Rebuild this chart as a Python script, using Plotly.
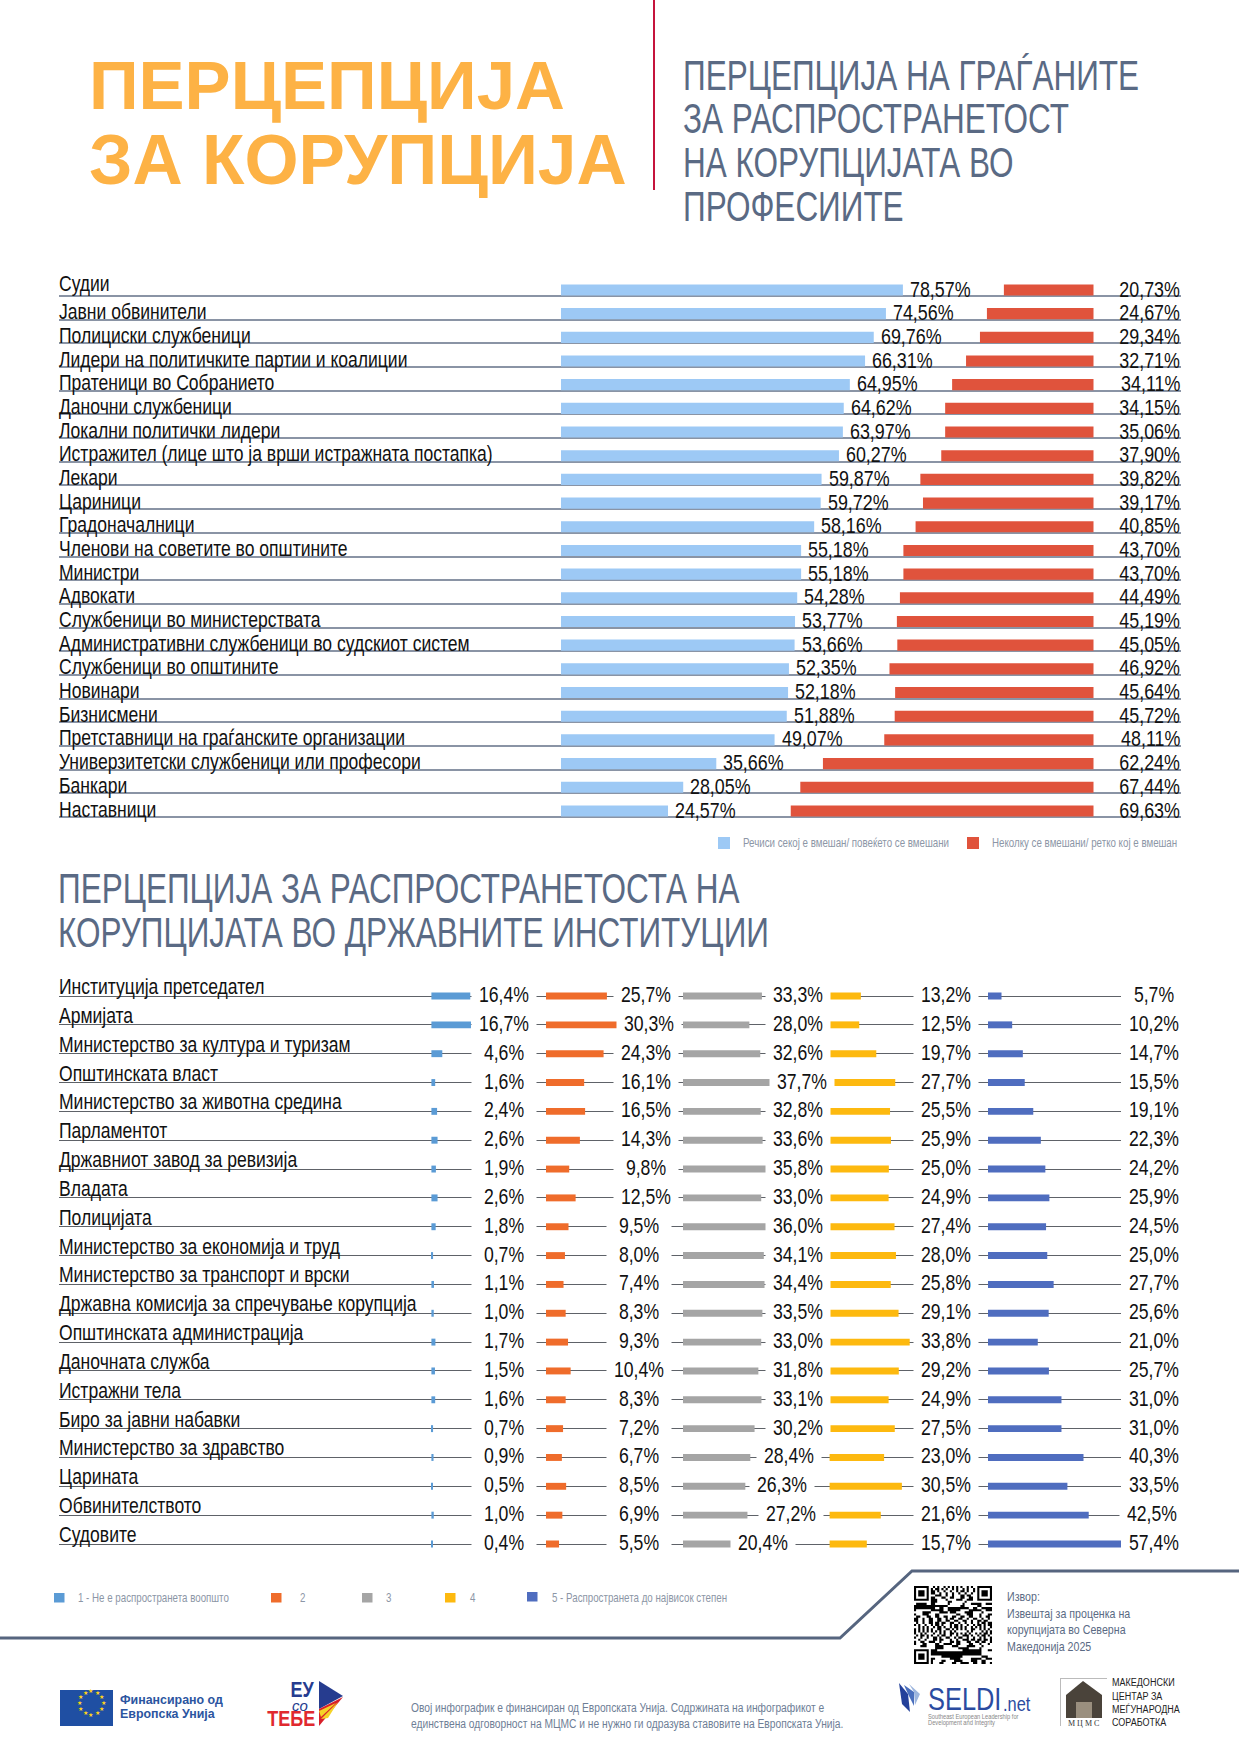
import math
import plotly.graph_objects as go

W, H = 1239, 1754
FONT = "Liberation Sans, sans-serif"      # narrowed horizontally below, as the original uses a narrow face
ARIAL = "Arial, Liberation Sans, sans-serif"
NARROW = 0.82

professions = ["Судии", "Јавни обвинители", "Полициски службеници",
    "Лидери на политичките партии и коалиции", "Пратеници во Собранието",
    "Даночни службеници", "Локални политички лидери",
    "Истражител (лице што ја врши истражната постапка)", "Лекари", "Цариници",
    "Градоначалници", "Членови на советите во општините", "Министри", "Адвокати",
    "Службеници во министерствата", "Административни службеници во судскиот систем",
    "Службеници во општините", "Новинари", "Бизнисмени",
    "Претставници на граѓанските организации",
    "Универзитетски службеници или професори", "Банкари", "Наставници"]
involved_labels = ["78,57%", "74,56%", "69,76%", "66,31%", "64,95%", "64,62%", "63,97%", "60,27%",
    "59,87%", "59,72%", "58,16%", "55,18%", "55,18%", "54,28%", "53,77%", "53,66%", "52,35%",
    "52,18%", "51,88%", "49,07%", "35,66%", "28,05%", "24,57%"]
few_labels = ["20,73%", "24,67%", "29,34%", "32,71%", "34,11%", "34,15%", "35,06%", "37,90%",
    "39,82%", "39,17%", "40,85%", "43,70%", "43,70%", "44,49%", "45,19%", "45,05%", "46,92%",
    "45,64%", "45,72%", "48,11%", "62,24%", "67,44%", "69,63%"]
# Bar lengths as drawn in the picture (a few differ from their printed labels)
involved_bars = [78.6, 74.7, 71.9, 69.9, 66.4, 65.0, 64.8, 63.9, 59.9, 59.7, 58.2, 55.2, 55.2,
    54.3, 53.8, 53.7, 52.4, 52.2, 51.9, 49.1, 35.7, 28.1, 24.6]
few_bars = [20.6, 24.5, 26.1, 29.3, 32.5, 34.1, 34.1, 35.0, 39.8, 39.2, 40.9, 43.7, 43.7, 44.5,
    45.2, 45.1, 46.9, 45.6, 45.7, 48.1, 62.2, 67.4, 69.6]

institutions = ["Институција претседател", "Армијата", "Министерство за култура и туризам",
    "Општинската власт", "Министерство за животна средина", "Парламентот",
    "Државниот завод за ревизија", "Владата", "Полицијата", "Министерство за економија и труд",
    "Министерство за транспорт и врски", "Државна комисија за спречување корупција",
    "Општинската администрација", "Даночната служба", "Истражни тела", "Биро за јавни набавки",
    "Министерство за здравство", "Царината", "Обвинителството", "Судовите"]
level1 = [16.4, 16.7, 4.6, 1.6, 2.4, 2.6, 1.9, 2.6, 1.8, 0.7, 1.1, 1.0, 1.7, 1.5, 1.6, 0.7, 0.9, 0.5, 1.0, 0.4]
level2 = [25.7, 30.3, 24.3, 16.1, 16.5, 14.3, 9.8, 12.5, 9.5, 8.0, 7.4, 8.3, 9.3, 10.4, 8.3, 7.2, 6.7, 8.5, 6.9, 5.5]
level3 = [33.3, 28.0, 32.6, 37.7, 32.8, 33.6, 35.8, 33.0, 36.0, 34.1, 34.4, 33.5, 33.0, 31.8, 33.1, 30.2, 28.4, 26.3, 27.2, 20.4]
level4 = [13.2, 12.5, 19.7, 27.7, 25.5, 25.9, 25.0, 24.9, 27.4, 28.0, 25.8, 29.1, 33.8, 29.2, 24.9, 27.5, 23.0, 30.5, 21.6, 15.7]
level5 = [5.7, 10.2, 14.7, 15.5, 19.1, 22.3, 24.2, 25.9, 24.5, 25.0, 27.7, 25.6, 21.0, 25.7, 31.0, 31.0, 40.3, 33.5, 42.5, 57.4]
levels = [level1, level2, level3, level4, level5]

ORANGE_T, SLATE, GREY_T = "#FDB245", "#5A6A84", "#8C96A6"
BLUE_L, RED = "#9DC9F5", "#E0533C"
LEVEL_COLORS = ["#5B9BD5", "#EF6C2B", "#A5A5A5", "#FDB90F", "#4F6DBF"]
LINE_TOP, LINE_BOT = "#8A94A5", "#5E6268"

def fx(px): return px / W
def fy(py): return 1 - py / H

fig = go.Figure()
ann, shapes = [], []
def text(x, y, s, size, color="#111", anchor="left", font=FONT):
    ann.append(dict(x=fx(x), y=fy(y), xref="paper", yref="paper", text=s, showarrow=False, xanchor=anchor,
                    align=anchor, yanchor="middle", font=dict(size=size, color=color, family=font)))

def px_path(pts, close=True):
    s = "M" + " L".join(f"{fx(a):.5f},{fy(b):.5f}" for a, b in pts)
    return s + (" Z" if close else "")

def poly(pts, color):
    shapes.append(dict(type="path", xref="paper", yref="paper", path=px_path(pts), fillcolor=color,
                       line=dict(width=0), layer="above"))

def rect(x0, y0, x1, y1, color):
    shapes.append(dict(type="rect", xref="paper", yref="paper", x0=fx(x0), x1=fx(x1), y0=fy(y1), y1=fy(y0),
                       fillcolor=color, line=dict(width=0), layer="above"))

# ---- Top chart -------------------------------------------------------------
TOP0, TOPN, TOP_PAD_A, TOP_PAD_B = 296, 817, 0.7, 0.5
step = (TOPN - TOP0) / 22
top_dom = [fy(TOPN + TOP_PAD_B * step), fy(TOP0 - TOP_PAD_A * step)]
PXPCT = 4.35
L0, R0, TL, TR = 561, 1093.5, 59, 1181
RIGHT_BASE = (R0 - L0) / PXPCT
fig.update_layout(
    xaxis=dict(domain=[fx(TL), fx(TR)], range=[(TL - L0) / PXPCT, (TR - L0) / PXPCT], visible=False, fixedrange=True),
    yaxis=dict(domain=top_dom, type="category", categoryorder="array", categoryarray=professions,
               range=[22 + TOP_PAD_B, -TOP_PAD_A], showgrid=True, gridcolor=LINE_TOP, gridwidth=1.6,
               showticklabels=False, ticks="", zeroline=False, showline=False, anchor="x"),
)
fig.add_trace(go.Bar(y=professions, x=involved_bars, orientation="h", width=0.47, offset=-0.49,
                     marker=dict(color=BLUE_L, line=dict(width=0)), name="Речиси секој е вмешан/ повеќето се вмешани",
                     showlegend=False))
fig.add_trace(go.Bar(y=professions, x=[-v for v in few_bars], base=RIGHT_BASE, orientation="h", width=0.47, offset=-0.49,
                     marker=dict(color=RED, line=dict(width=0)), name="Неколку се вмешани/ ретко кој е вмешан",
                     showlegend=False))
for i, (cat, fl, il, ib) in enumerate(zip(professions, few_labels, involved_labels, involved_bars)):
    ann.append(dict(x=fx(56.5), y=cat, xref="paper", yref="y", text=cat, showarrow=False, xanchor="left", align="left",
                    yanchor="bottom", yshift=-6.5 + (5 if i == 0 else 0), font=dict(size=21.4, color="#111", family=FONT)))
    ann.append(dict(x=fx(1182), y=cat, xref="paper", yref="y", text=fl, showarrow=False, xanchor="right", align="right",
                    yanchor="middle", yshift=7, font=dict(size=21.8, color="#111", family=FONT)))
    ann.append(dict(x=ib, y=cat, xref="x", yref="y", text=il, showarrow=False, xanchor="left", align="left",
                    yanchor="middle", xshift=5, yshift=7, font=dict(size=21.8, color="#111", family=FONT)))

# ---- Bottom chart ----------------------------------------------------------
BOT0, BOTN, BOT_PAD = 996, 1544, 0.9
bstep = (BOTN - BOT0) / 19
bot_dom = [fy(BOTN + 0.5 * bstep), fy(BOT0 - BOT_PAD * bstep)]
BPX = 2.37
col_starts = [431.4, 546, 683, 829.6, 988]
label_centers = [504, 645.5, 798.5, 946, 1154]
BL, BR = 59, 1121
NBOT = len(institutions)
# Sideways nudge of single value labels, as placed in the picture: {column: {row: pixels}}
label_nudge = {1: {1: 3.5, **{r: -6.5 for r in range(8, NBOT)}},
               2: {3: 3, 15: -0.5, 16: -10, 17: -16.5, 18: -8, 19: -35.5},
               4: {18: -2}}
fig.update_layout(
    xaxis2=dict(domain=[fx(BL), fx(BR)], range=[(BL - col_starts[0]) / BPX, (BR - col_starts[0]) / BPX], visible=False,
                anchor="y2", fixedrange=True),
    yaxis2=dict(domain=bot_dom, type="category", categoryorder="array", categoryarray=institutions,
                range=[NBOT - 1 + 0.5, -BOT_PAD], showgrid=True, gridcolor=LINE_BOT, gridwidth=1.2,
                showticklabels=False, ticks="", zeroline=False, showline=False, anchor="x2"))
names = ["1 - Не е распространета воопшто", "2", "3", "4", "5 - Распространета до највисок степен"]
for i, (vals, st, c) in enumerate(zip(levels, col_starts, label_centers)):
    fig.add_trace(go.Bar(y=institutions, x=vals, base=(st - col_starts[0]) / BPX, orientation="h", xaxis="x2", yaxis="y2",
                         width=0.24, marker=dict(color=LEVEL_COLORS[i], line=dict(width=0)), name=names[i], showlegend=False))
    for r, (cat, v) in enumerate(zip(institutions, vals)):
        cx = c + label_nudge.get(i, {}).get(r, 0)
        # the white box makes the gap in the row line around the value
        ann.append(dict(x=fx(cx), y=cat, xref="paper", yref="y2", text=f"{v:.1f}".replace(".", ",") + "%",
                        showarrow=False, xanchor="center", align="center", yanchor="middle", yshift=1, width=62,
                        bgcolor="white", font=dict(size=21.5, color="#111", family=FONT)))
for cat in institutions:
    ann.append(dict(x=fx(56.5), y=cat, xref="paper", yref="y2", text=cat, showarrow=False, xanchor="left", align="left",
                    yanchor="bottom", yshift=-5, font=dict(size=21.4, color="#111", family=FONT)))

# ---- Titles ----------------------------------------------------------------
text(87, 86, "<b>ПЕРЦЕПЦИЈА</b>", 69, ORANGE_T, font=ARIAL)
text(87, 160, "<b>ЗА КОРУПЦИЈА</b>", 69.5, ORANGE_T, font=ARIAL)
for y, s in zip([76, 119, 163, 206], ["ПЕРЦЕПЦИЈА НА ГРАЃАНИТЕ", "ЗА РАСПРОСТРАНЕТОСТ", "НА КОРУПЦИЈАТА ВО", "ПРОФЕСИИТЕ"]):
    text(681, y, s, 42, SLATE)
text(56, 889, "ПЕРЦЕПЦИЈА ЗА РАСПРОСТРАНЕТОСТА НА", 42, SLATE)
text(56, 933, "КОРУПЦИЈАТА ВО ДРЖАВНИТЕ ИНСТИТУЦИИ", 42, SLATE)
shapes.append(dict(type="line", xref="paper", yref="paper", x0=fx(654), x1=fx(654), y0=fy(0), y1=fy(190),
                   line=dict(color="#C5143C", width=2)))

# ---- Legends ---------------------------------------------------------------
rect(718, 837, 730, 849, BLUE_L)
text(741, 843, "Речиси секој е вмешан/ повеќето се вмешани", 12.5, GREY_T)
rect(967, 837, 979, 849, RED)
text(990, 843, "Неколку се вмешани/ ретко кој е вмешан", 12.5, GREY_T)
for (x0, tx, s, c, dy) in zip([54, 271, 362, 445, 527], [76, 298, 384, 468, 550], names, LEVEL_COLORS, [0, 0, 0, 0, -1]):
    rect(x0, 1593 + dy, x0 + 10.5, 1602.5 + dy, c)
    text(tx, 1598, s, 12.5, GREY_T)

# ---- Footer ----------------------------------------------------------------
shapes.append(dict(type="path", xref="paper", yref="paper", path=px_path([(0, 1638), (840, 1638), (912, 1571), (1239, 1571)], close=False),
                   line=dict(color="#56657F", width=3), layer="above"))
# QR-style pattern (decorative)
QN, QX, QY, QS = 37, 914, 1586, 78 / 37
def module_on(r, c):
    for (fr, fc) in [(0, 0), (0, QN - 7), (QN - 7, 0)]:
        if fr - 1 <= r <= fr + 7 and fc - 1 <= c <= fc + 7:
            if not (fr <= r < fr + 7 and fc <= c < fc + 7):
                return False
            rr, cc = r - fr, c - fc
            return rr in (0, 6) or cc in (0, 6) or (2 <= rr <= 4 and 2 <= cc <= 4)
    return ((r * r * 7 + c * 13 + r * c * 5 + (r ^ c) * 3) % 11) < 5
parts = []
for r in range(QN):
    for c in range(QN):
        if module_on(r, c):
            parts.append(px_path([(QX + c * QS, QY + r * QS), (QX + (c + 1) * QS, QY + r * QS),
                                  (QX + (c + 1) * QS, QY + (r + 1) * QS), (QX + c * QS, QY + (r + 1) * QS)]))
shapes.append(dict(type="path", xref="paper", yref="paper", path=" ".join(parts), fillcolor="#000", line=dict(width=0), layer="above"))
for y, s in zip([1596, 1613, 1629, 1646], ["Извор:", "Извештај за проценка на", "корупцијата во Северна", "Македонија 2025"]):
    text(1005, y, s, 13, SLATE)

# EU flag
rect(60, 1690, 113, 1726, "#1F4FA3")
for k in range(12):
    a = k * math.pi / 6
    ann.append(dict(x=fx(86.5 + 12 * math.sin(a)), y=fy(1708 - 12 * math.cos(a)), xref="paper", yref="paper", text="★",
                    showarrow=False, font=dict(size=6, color="#FFD617", family="DejaVu Sans, Arial")))
text(118, 1700, "<b>Финансирано од</b>", 12.4, "#2B55A0", font=ARIAL)
text(118, 1714, "<b>Европска Унија</b>", 12.4, "#2B55A0", font=ARIAL)
# EU so TEBE logo
text(302, 1689, "<b>ЕУ</b>", 22, "#263C8F", anchor="center")
text(300, 1705, "<i>со</i>", 15, "#263C8F", anchor="center", font=ARIAL)
text(291, 1718, "<b>ТЕБЕ</b>", 22, "#E0292E", anchor="center")
poly([(319, 1681), (343, 1696), (319, 1709)], "#263C8F")
poly([(319, 1709), (343, 1697), (319, 1726)], "#D8202A")
poly([(319, 1711), (336, 1703), (321, 1717)], "#F5D327")
poly([(321, 1719), (338, 1702), (328, 1718)], "#F5D327")
# Centre text
text(409, 1707, "Овој инфографик е финансиран од Европската Унија. Содржината на инфографикот е", 13.5, "#6E7E96")
text(409, 1723, "единствена одговорност на МЦМС и не нужно ги одразува ставовите на Европската Унија.", 13.5, "#6E7E96")
# SELDI logo
poly([(899, 1683), (908, 1694), (910, 1712), (902, 1704)], "#23409A")
poly([(904, 1685), (914, 1692), (914, 1706), (908, 1694)], "#4A6FBD")
poly([(909, 1684), (920, 1694), (915, 1705), (914, 1692)], "#9DB6DE")
text(926, 1699, "SELDI", 31, "#2B4BA0")
text(1001, 1704, ".net", 20, "#2B4BA0")
text(926, 1717, "Southeast European Leadership for", 7, "#888")
text(926, 1723, "Development and Integrity", 7, "#888")
# MCMS logo
rect(1060, 1678, 1107, 1679, "#BBB")
rect(1060, 1678, 1061, 1726, "#BBB")
poly([(1066, 1695), (1083, 1681), (1102, 1695), (1102, 1718), (1066, 1718)], "#4A433A")
rect(1076, 1702, 1092, 1718, "#9A8F7E")
text(1083, 1723, "М Ц М С", 8, "#333", anchor="center", font="Liberation Serif, serif")
for y, s in zip([1682, 1696, 1709, 1722], ["МАКЕДОНСКИ", "ЦЕНТАР ЗА", "МЕЃУНАРОДНА", "СОРАБОТКА"]):
    text(1110, y, s, 11, "#222")

fig.update_layout(width=W, height=H, margin=dict(l=0, r=0, t=0, b=0), paper_bgcolor="white", plot_bgcolor="white",
                  showlegend=False, barmode="overlay", annotations=ann, shapes=shapes, autosize=False,
                  font=dict(family=FONT))
POST = """
document.body.style.margin='0';document.body.style.overflow='hidden';
var gd=document.getElementById('{plot_id}');
var SCALE={'42':0.75,'12.5':0.78,'13.5':0.76};
function narrow(){
  gd.querySelectorAll('svg text').forEach(function(t){
    if(t.getAttribute('data-nr'))return;
    var f=t.style.fontFamily||'';
    if(f.indexOf('Arial')>=0||f.indexOf('DejaVu')>=0||f.indexOf('Serif')>=0)return;
    var s=SCALE[String(parseFloat(t.style.fontSize))]||NARROW;
    var x=parseFloat(t.getAttribute('x')||0), tr=t.getAttribute('transform')||'';
    t.setAttribute('transform',tr+' translate('+x+',0) scale('+s+',1) translate('+(-x)+',0)');
    t.setAttribute('data-nr','1');
  });
}
narrow();[0,30,100,300].forEach(function(d){setTimeout(narrow,d);});
if(gd.on)gd.on('plotly_afterplot',narrow);
""".replace("NARROW", str(NARROW))
fig.write_html("out.html", post_script=POST, config={"displayModeBar": False})
